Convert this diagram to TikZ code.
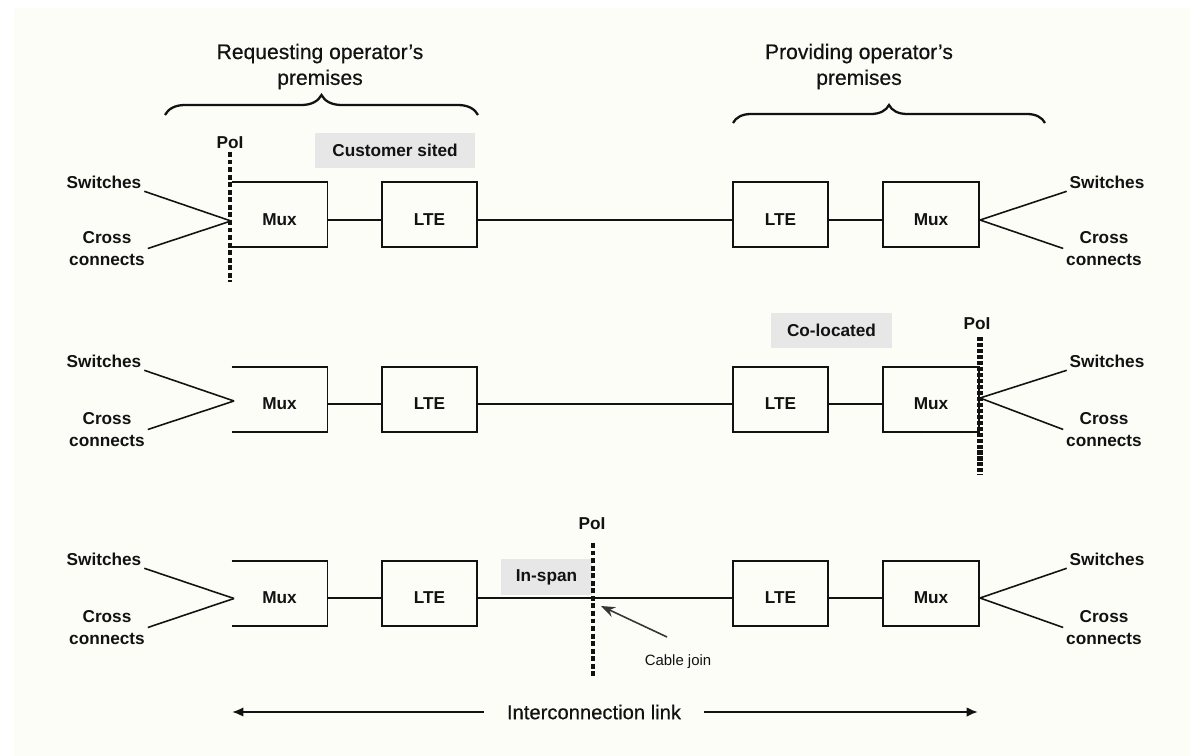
\documentclass[tikz,border=0pt]{standalone}
\usepackage{fontspec}
\setmainfont{Liberation Sans}
\newfontfamily\headfont[FakeBold=0.5]{Liberation Sans}
\usetikzlibrary{decorations.pathreplacing,arrows.meta}
\definecolor{bgc}{RGB}{253,253,248}
\definecolor{tagc}{RGB}{231,231,231}
\definecolor{inkc}{RGB}{18,18,18}
\begin{document}
\begin{tikzpicture}[x=0.02cm,y=-0.02cm,
  lbl/.style={font=\bfseries\fontsize{9.8}{12}\selectfont,inner sep=1.5pt,text=inkc},
  cc/.style={lbl,align=center,font=\bfseries\fontsize{9.8}{12.1}\selectfont},
  head/.style={align=center,font=\headfont\fontsize{12}{14.7}\selectfont,inner sep=0pt,text=inkc},
  boxn/.style={minimum height=1.3cm,inner sep=0pt,outer sep=0pt},
  muxw/.style={boxn,minimum width=1.92cm},
  ltew/.style={boxn,minimum width=1.9cm},
  boxline/.style={line width=1.1pt,draw=inkc},
  conn/.style={line width=0.9pt,draw=inkc},
  fan/.style={line width=0.9pt,draw=inkc},
  tag/.style={fill=tagc,font=\bfseries\fontsize{9.8}{12}\selectfont,minimum height=0.7cm,inner sep=0pt,text=inkc},
  poila/.style={line width=2.2pt,draw=inkc,dash pattern=on 2.8pt off 1.5pt},
  poilb/.style={line width=2.9pt,draw=inkc,dash pattern=on 2.3pt off 1.1pt},
  brc/.style={decorate,line width=1.3pt,draw=inkc},
  ilink/.style={line width=1.2pt,draw=inkc,-{Latex[length=6.5pt,width=5.5pt]}},
]
\fill[white] (0,0) rectangle (1190,756);
\fill[bgc] (14,8) rectangle (1190,756);
\useasboundingbox (0,0) rectangle (1190,756);

% headings and braces
\node[head] (hreq) at (320,66.5) {Requesting operator’s\\premises};
\node[head] (hpro) at (859,66.5) {Providing operator’s\\premises};
\draw[brc,decoration={brace,amplitude=0.4cm}] (165,115) -- (478,115);
\draw[brc,decoration={brace,amplitude=0.36cm}] (733,123) -- (1045,123);

% three rows
\foreach \r/\cy/\ly/\jx/\jy/\jr/\sy/\cyy in
  {1/214.5/220/231/221/220/182/248.5,
   2/399.5/404/234/401/398/361/429.5,
   3/593.5/598/234/598.5/598/559/627.5} {
  \node[muxw] (ml\r) at (279.5,\cy) {};
  \draw[boxline] (ml\r.north west) -- (ml\r.north east) -- (ml\r.south east) -- (ml\r.south west);
  \node[ltew,boxline] (ll\r) at (429.5,\cy) {};
  \node[ltew,boxline] (lr\r) at (780.5,\cy) {};
  \node[muxw,boxline] (mr\r) at (931,\cy) {};
  \node[lbl] (tml\r) at (279.5,\ly) {Mux};
  \node[lbl] (tll\r) at (429.5,\ly) {LTE};
  \node[lbl] (tlr\r) at (780.5,\ly) {LTE};
  \node[lbl] (tmr\r) at (931,\ly) {Mux};
  \draw[conn] (ml\r.east |- tml\r.center) -- (ll\r.west |- tml\r.center);
  \draw[conn] (ll\r.east |- tml\r.center) -- (lr\r.west |- tml\r.center);
  \draw[conn] (lr\r.east |- tml\r.center) -- (mr\r.west |- tml\r.center);
  \node[lbl] (swl\r) at (104,\sy) {Switches};
  \node[cc] (ccl\r) at (107,\cyy) {Cross\\connects};
  \node[lbl] (swr\r) at (1107,\sy) {Switches};
  \node[cc] (ccr\r) at (1104,\cyy) {Cross\\connects};
  \coordinate (jl\r) at (\jx,\jy);
  \coordinate (jr\r) at (980,\jr);
  \draw[fan] (swl\r.south east) -- (jl\r);
  \draw[fan] (ccl\r.east) -- (jl\r);
  \draw[fan] (jr\r) -- (swr\r.south west);
  \draw[fan] (jr\r) -- (ccr\r.west);
}

% tags
\node[tag,minimum width=3.2cm] (tcs) at (395,150.5) {Customer sited};
\node[tag,minimum width=2.42cm] (tco) at (831.5,330.5) {Co-located};
\node[tag,minimum width=1.82cm,minimum height=0.72cm] (tis) at (546.5,577) {In-span};

% points of interconnection
\node[lbl] (poi1) at (230,143) {PoI};
\coordinate (p1t) at (230,152);
\coordinate (p1b) at (230,282);
\draw[poila] (p1t) -- (p1b);

\node[lbl] (poi2) at (977,324) {PoI};
\coordinate (p2t) at (980,337);
\coordinate (p2b) at (980,475);
\draw[poilb] (p2t) -- (p2b);

\node[lbl] (poi3) at (592,524) {PoI};
\coordinate (p3t) at (593,543);
\coordinate (p3b) at (593,677);
\draw[poila,line width=2.4pt] (p3t) -- (p3b);

% cable join
\node[font=\fontsize{8.5}{10}\selectfont,inner sep=1pt,text=inkc] (cj) at (678,662) {Cable join};
\coordinate (cjs) at (667,637);
\coordinate (cjt) at (601,606);
\draw[line width=0.9pt,draw=inkc!85,-{Stealth[length=8pt,width=6pt]}] (cjs) -- (cjt);

% interconnection link
\node[font=\headfont\fontsize{11.5}{13}\selectfont,inner xsep=13pt,text=inkc] (ic) at (594,712) {Interconnection link};
\coordinate (icl) at (232,712);
\coordinate (icr) at (978,712);
\draw[ilink] (ic.west) -- (icl);
\draw[ilink] (ic.east) -- (icr);
\end{tikzpicture}
\end{document}
